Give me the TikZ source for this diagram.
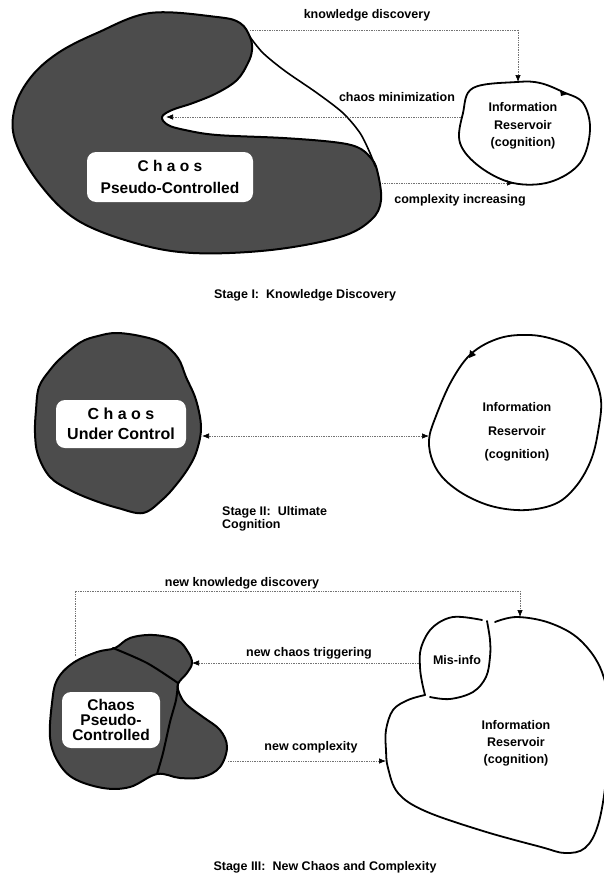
\documentclass[tikz,border=0pt]{standalone}
\usepackage{fontspec}
\setmainfont{Liberation Sans}
\usetikzlibrary{arrows.meta}
\begin{document}
\begin{tikzpicture}[x=1pt,y=-1pt,
  chaosblob/.style={fill=black!70, draw=black, line width=2pt, line join=round},
  resvline/.style={draw=black, line width=1.8pt, line join=round, line cap=round},
  flowline/.style={draw=black!55, densely dotted, line width=0.7pt},
  arr/.style={-{Latex[length=7pt,width=5.5pt,color=black]}},
  arrboth/.style={{Latex[length=7pt,width=5.5pt,color=black]}-{Latex[length=7pt,width=5.5pt,color=black]}},
  lbltext/.style={font=\fontsize{12.5}{15}\selectfont\bfseries, inner sep=0pt},
  bigtext/.style={font=\fontsize{15.5}{22}\selectfont\bfseries, align=center},
  wbox/.style={fill=white, rounded corners=9pt, inner sep=0pt},
]
\useasboundingbox (0,0) rectangle (603,875);
\fill[white] (0,0) rectangle (603,875);

% ================= Stage I =================
\draw[chaosblob] plot[smooth cycle, tension=0.6] coordinates {(150,13) (217,17) (240,23) (250,37) (252,50) (248,63) (237,80) (217,93) (193,103) (172,110) (162,117) (168,125) (185,130) (217,135) (283,138) (333,142) (357,147) (370,157) (377,170) (381,200) (371,220) (340,237) (271,250) (193,253) (135,243) (77,220) (39,183) (15,140) (15,107) (31,77) (58,53) (97,33)};
\draw[line width=1.6pt, line cap=round] plot[smooth, tension=0.5] coordinates {(250,37) (263,53) (285,71) (317,93) (343,113) (360,133) (370,153) (375,166)};
\node[wbox, bigtext, minimum width=166pt, minimum height=50pt] (b1) at (170,177) {C h a o s\\Pseudo-Controlled};

\draw[resvline] plot[smooth cycle, tension=0.6] coordinates {(517,82) (540,83) (563,92) (583,103) (590,130) (580,163) (550,182) (513,183) (480,167) (460,143) (463,113) (473,88)};
\fill (560,90) -- (568,94) -- (561,96) -- cycle;
\node[lbltext, align=center, font=\fontsize{12.5}{17.5}\selectfont\bfseries] (r1) at (523,126) {Information\\Reservoir\\(cognition)};

\coordinate (c1top) at (250,30);
\coordinate (kd1) at (518,30);
\coordinate (r1top) at (518,82);
\coordinate (r1left) at (461,117);
\coordinate (c1notch) at (166,117);
\coordinate (c1right) at (382,183);
\coordinate (r1bot) at (514,183);
\draw[flowline] (c1top) -- (kd1);
\draw[flowline, arr] (kd1) -- (r1top);
\draw[flowline, arr] (r1left) -- (c1notch);
\draw[flowline, arr] (c1right) -- (r1bot);

\node[lbltext] (t1) at (367,15) {knowledge discovery};
\node[lbltext] (t2) at (397,97) {chaos minimization};
\node[lbltext] (t3) at (460,200) {complexity increasing};
\node[lbltext] (s1) at (305,295) {Stage I:\ \ Knowledge Discovery};

% ================= Stage II =================
\draw[chaosblob] plot[smooth cycle, tension=0.6] coordinates {(116,333) (140,336) (162,343) (178,358) (186,377) (196,400) (201,427) (197,450) (189,467) (176,485) (162,500) (143,513) (118,508) (93,500) (70,490) (50,477) (38,455) (35,433) (36,410) (39,387) (50,370) (62,357) (81,342) (98,336)};
\node[wbox, bigtext, font=\fontsize{16}{20}\selectfont\bfseries, minimum width=130pt, minimum height=48pt] (b2) at (121,424) {C h a o s\\Under Control};

\draw[resvline] plot[smooth cycle, tension=0.6] coordinates {(530,335) (556,340) (576,350) (592,372) (601,400) (598,432) (591,460) (577,485) (557,503) (527,510) (495,507) (467,496) (445,480) (433,462) (429,440) (436,416) (452,380) (472,353) (500,338)};
\fill (470,350) -- (476,355) -- (469,358) -- cycle;
\node[lbltext, align=center, font=\fontsize{12.5}{23.5}\selectfont\bfseries] (r2) at (517,432) {Information\\Reservoir\\(cognition)};

\coordinate (c2r) at (202,436);
\coordinate (r2l) at (429,436);
\draw[flowline, arrboth] (c2r) -- (r2l);

\node[lbltext, align=left, anchor=west, font=\fontsize{12.5}{13.5}\selectfont\bfseries] (s2) at (222,519) {Stage II:\ \ Ultimate\\Cognition};

% ================= Stage III =================
\draw[chaosblob] plot[smooth cycle, tension=0.6] coordinates {(115,648) (130,638) (153,635) (177,640) (188,652) (192,663) (187,673) (178,684) (180,695) (187,705) (203,717) (220,730) (227,747) (220,767) (203,777) (180,778) (157,774) (130,787) (103,788) (73,778) (57,760) (50,737) (52,703) (57,680) (73,663) (97,652)};
\draw[line width=2pt, line cap=round] plot[smooth, tension=0.5] coordinates {(113,648) (147,663) (178,683)};
\draw[line width=2pt, line cap=round] plot[smooth, tension=0.5] coordinates {(178,683) (176,700) (170,722) (163,753) (157,774)};
\node[wbox, bigtext, font=\fontsize{15.5}{15}\selectfont\bfseries, minimum width=98pt, minimum height=56pt] (b3) at (111,720) {Chaos\\Pseudo-\\Controlled};

\draw[resvline] plot[smooth, tension=0.6] coordinates {(482,620) (453,617) (432,628) (421,648) (420,667) (422,682) (425,695)};
\draw[resvline] plot[smooth, tension=0.6] coordinates {(425,695) (408,700) (393,710) (386,730) (386,750) (388,768) (398,793) (425,811) (483,831) (541,847) (565,853) (585,848) (598,825) (606,780) (610,720) (602,672) (580,640) (550,623) (517,617) (495,622)};
\draw[resvline] plot[smooth, tension=0.6] coordinates {(487,621) (490,640) (490,657) (486,677) (473,692) (450,699) (430,697)};
\node[lbltext] (mis) at (457,660) {Mis-info};
\node[lbltext, align=center, font=\fontsize{12.5}{17}\selectfont\bfseries] (r3) at (516,743) {Information\\Reservoir\\(cognition)};

\coordinate (c3top) at (75,656);
\coordinate (kd3) at (520,591);
\coordinate (r3top) at (520,617);
\coordinate (misl) at (419,663);
\coordinate (c3tip) at (192,663);
\coordinate (c3r) at (228,761);
\coordinate (r3l) at (386,761);
\draw[flowline] (c3top) |- (kd3);
\draw[flowline, arr] (kd3) -- (r3top);
\draw[flowline, arr] (misl) -- (c3tip);
\draw[flowline, arr] (c3r) -- (r3l);

\node[lbltext] (t4) at (242,583) {new\ knowledge\ discovery};
\node[lbltext] (t5) at (309,653) {new chaos triggering};
\node[lbltext] (t6) at (311,747) {new complexity};
\node[lbltext] (s3) at (325,867) {Stage III:\ \ New Chaos and Complexity};
\end{tikzpicture}
\end{document}
